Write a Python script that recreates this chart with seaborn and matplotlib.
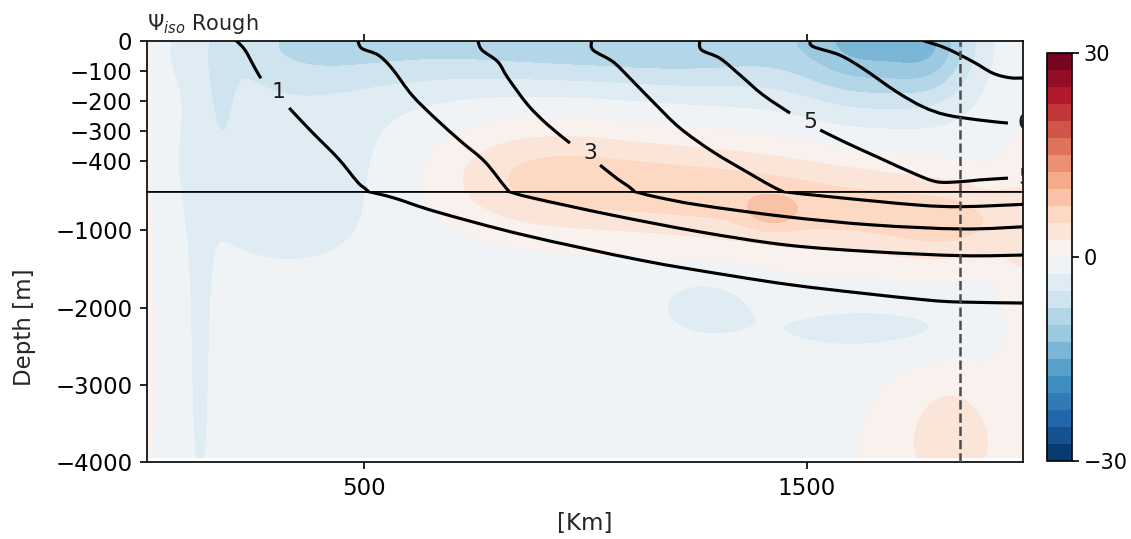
import numpy as np
import matplotlib
matplotlib.use("Agg")
import matplotlib.pyplot as plt
from matplotlib.path import Path
from matplotlib.patches import PathPatch
import seaborn as sns

# ---------------- section grid ----------------
x_km = np.arange(5.0, 2000.0, 5.0)
depth_m = np.concatenate([np.linspace(0, -500, 101), np.linspace(-510, -3940, 344)])

# background value of the streamfunction
psi_background = -1.25

# circulation cells (centre x [km], centre depth [m], widths, amplitude [Sv])
cell_x_km = [355, 626, 897, 1168, 1416, 1642, 1789, 179, 333, 130, 10,
             897, 1258, 1619, 1845, 1421, 1270, 1653, 1823, 1823, 1992]
cell_z_m = [0, 0, 0, 0, 0, 0, 0, -147, -395, -2291, -1255,
            -455, -494, -763, -931, -763, -1967, -2278, -3975, -3586, -1644]
cell_sx_km = [158, 158, 158, 158, 158, 113, 68, 23, 192, 18, 14,
              181, 203, 203, 113, 41, 79, 181, 158, 68, 41]
cell_sz_m = [116, 112, 110, 116, 136, 152, 139, 160, 255, 496, 1323,
             126, 119, 119, 95, 40, 73, 60, 231, 132, 397]
cell_amp = [-5.0, -4.5, -5.5, -6.0, -4.8, -10.0, -7.0, -2.6, -2.9, -2.2, 2.6,
            6.2, 6.0, 5.8, 4.3, 3.5, -2.3, -2.3, 3.0, 2.5, 2.7]

# isopycnals (x [km], depth [m]); NaN marks the break under a label
iso1_x = [211, 231, 254, 267, np.nan, 331, 382, 441, 486, 509, 568, 665, 861, 1123, 1319, 1468, 1620, 1771, 1845, 1990]
iso1_z = [0, -31, -92, -125, np.nan, -223, -302, -389, -469, -498, -582, -763, -1061, -1385, -1579, -1709, -1812, -1903, -1929, -1942]
iso2_x = [486, 495, 532, 563, 608, 660, 720, 773, 825, 881, 1059, 1256, 1453, 1649, 1851, 1994]
iso2_z = [0, -26, -48, -92, -180, -256, -335, -401, -495, -582, -802, -1018, -1190, -1277, -1329, -1320]
iso3_x = [757, 766, 802, 825, 870, 915, 965, np.nan, 1033, 1070, 1107, 1157, 1256, 1453, 1649, 1851, 1994]
iso3_z = [0, -31, -70, -124, -213, -279, -339, np.nan, -412, -455, -494, -565, -672, -824, -931, -983, -953]
iso4_x = [1014, 1017, 1062, 1100, 1152, 1213, 1288, 1364, 1439, 1551, 1748, 1851, 1994]
iso4_z = [0, -31, -70, -124, -202, -289, -368, -434, -495, -565, -672, -694, -663]
iso5_x = [1258, 1262, 1304, 1349, 1401, 1462, np.nan, 1530, 1590, 1665, 1739, 1793, 1845, 1890, 1954]
iso5_z = [0, -31, -59, -114, -180, -240, np.nan, -296, -339, -389, -438, -467, -467, -461, -455]
iso6_x = [1507, 1514, 1574, 1626, 1702, 1762, 1815, 1890, 1954]
iso6_z = [0, -20, -48, -92, -169, -219, -246, -263, -273]
iso7_x = [1762, 1815, 1875, 1920, 1958, 1990]
iso7_z = [0, -26, -70, -108, -123, -124]

iso_label_text = ["1", "3", "5", "6", "5"]
iso_label_x = [306, 1010, 1507, 1992, 1992]
iso_label_z = [-170, -372, -268, -273, -455]

section_x = 1845  # km, dashed reference section

# ---------------- build the field ----------------
def stretch(z):
    z = np.asarray(z, dtype=float)
    return np.where(z >= -500, z, -500 + (z + 500) * 0.2553)

X, Z = np.meshgrid(x_km, depth_m)
S = stretch(Z)
psi = np.full_like(X, psi_background)
for cx, cz, sx, sz, a in zip(cell_x_km, cell_z_m, cell_sx_km, cell_sz_m, cell_amp):
    cs = stretch(cz)
    psi += a * np.exp(-0.5 * ((X - cx) / sx) ** 2 - 0.5 * ((S - cs) / sz) ** 2)


def smooth_path(xs, zs):
    """Smooth curve (Catmull-Rom as cubic Bezier) through the isopycnal points."""
    xs = np.asarray(xs, float)
    zs = np.asarray(zs, float)
    pts = np.column_stack([xs, zs])
    cuts = np.where(np.isnan(xs))[0]
    verts, codes = [], []
    for seg in np.split(pts, cuts):
        seg = seg[~np.isnan(seg[:, 0])]
        n = len(seg)
        if n < 2:
            continue
        verts.append(seg[0])
        codes.append(Path.MOVETO)
        for i in range(n - 1):
            p0 = seg[i - 1] if i > 0 else seg[i]
            p1, p2 = seg[i], seg[i + 1]
            p3 = seg[i + 2] if i + 2 < n else seg[i + 1]
            verts += [p1 + (p2 - p0) / 6.0, p2 - (p3 - p1) / 6.0, p2]
            codes += [Path.CURVE4] * 3
    return Path(np.array(verts), codes)


# ---------------- figure ----------------
sns.set_theme(style="ticks")
plt.rcParams.update({
    "font.family": ["DejaVu Sans"],
    "font.size": 11,
    "axes.edgecolor": "black",
    "axes.linewidth": 0.8,
    "xtick.color": "black",
    "ytick.color": "black",
    "xtick.labelsize": 11,
    "ytick.labelsize": 11,
    "axes.labelsize": 11,
    "xtick.major.size": 3.5,
    "ytick.major.size": 3.5,
    "xtick.major.width": 0.8,
    "ytick.major.width": 0.8,
})

fig = plt.figure(figsize=(1131 / 150, 539 / 150), dpi=150)
ax_top = fig.add_axes([0.1300, 0.6443, 0.7745, 0.2805])
ax_bot = fig.add_axes([0.1300, 0.1429, 0.7745, 0.5015])
cax = fig.add_axes([0.9257, 0.1447, 0.0221, 0.7570])

cmap = sns.color_palette("RdBu_r", as_cmap=True)
levels = np.linspace(-30, 30, 25)

isolines = [(iso1_x, iso1_z), (iso2_x, iso2_z), (iso3_x, iso3_z), (iso4_x, iso4_z),
            (iso5_x, iso5_z), (iso6_x, iso6_z), (iso7_x, iso7_z)]

for ax in (ax_top, ax_bot):
    cf = ax.contourf(x_km, depth_m, psi, levels=levels, cmap=cmap)
    for ix, iz in isolines:
        ax.add_patch(PathPatch(smooth_path(ix, iz), facecolor="none", edgecolor="black",
                               lw=1.5, capstyle="butt", joinstyle="round", zorder=3))
    ax.axvline(section_x, color="0.3", lw=1.2, ls="--", zorder=4)
    ax.set_xlim(10, 1988)
    ax.set_facecolor("white")
    for sp in ax.spines.values():
        sp.set_visible(True)
        sp.set_color("black")

for t, lx, lz in zip(iso_label_text, iso_label_x, iso_label_z):
    ax_top.text(lx, lz, t, fontsize=10.5, color="#1a1a1a", ha="center", va="center",
                clip_on=True, zorder=5)

ax_top.set_ylim(-500, 0)
ax_top.set_yticks([0, -100, -200, -300, -400])
ax_top.set_xticks([500, 1500])
ax_top.xaxis.tick_top()
ax_top.tick_params(axis="x", labeltop=False, labelbottom=False)
ax_top.set_title(r"$\Psi_{iso}$ Rough", loc="left", fontsize=10, pad=5)

ax_bot.set_ylim(-4000, -500)
ax_bot.set_yticks([-1000, -2000, -3000, -4000])
ax_bot.set_xticks([500, 1500])
ax_bot.set_xlabel("[Km]", labelpad=6)
ax_bot.set_ylabel("Depth [m]", labelpad=9)

cb = fig.colorbar(cf, cax=cax, ticks=[-30, 0, 30])
cb.outline.set_edgecolor("black")
cb.outline.set_linewidth(0.8)
cax.tick_params(labelsize=10, pad=2)

fig.savefig("out.png", dpi=150)
